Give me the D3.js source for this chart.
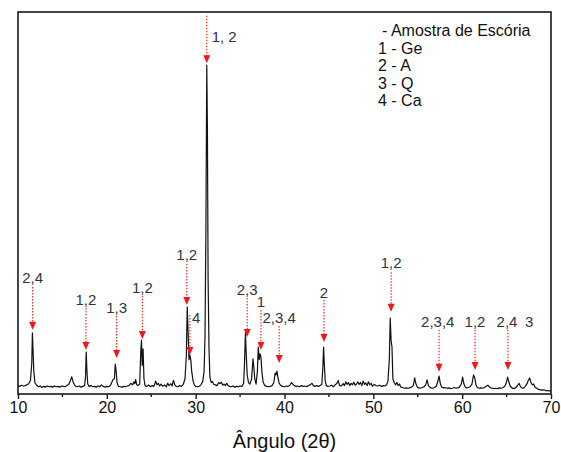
<!DOCTYPE html>
<html>
<head>
<meta charset="utf-8">
<script src="https://cdn.jsdelivr.net/npm/d3@7"></script>
<style>
  body { margin: 0; background: #fff; }
  svg { display: block; font-family: "Liberation Sans", Arial, sans-serif; }
</style>
</head>
<body>
<svg id="chart" width="561" height="452"></svg>
<script>
// diffractogram: [2theta, intensity]
const pattern = [
  [10.0,22],[10.2,20],[10.4,23],[10.6,21],[10.8,22],[11.0,24],[11.2,27],[11.4,35],[11.55,80],[11.62,160],
  [11.7,110],[11.78,60],[11.9,30],[12.1,23],[12.3,19],[12.5,21],[12.7,17],[12.9,20],[13.1,18],[13.3,21],
  [13.5,19],[13.7,20],[13.9,18],[14.1,21],[14.3,19],[14.5,20],[14.7,18],[14.9,21],[15.1,20],[15.3,19],
  [15.5,22],[15.7,25],[15.9,35],[16.05,45],[16.2,32],[16.35,24],[16.5,20],[16.7,19],[16.9,21],[17.1,18],
  [17.3,20],[17.5,22],[17.6,45],[17.68,110],[17.76,60],[17.85,26],[18.0,20],[18.2,22],[18.4,19],[18.6,20],
  [18.8,18],[19.0,21],[19.2,19],[19.4,24],[19.6,20],[19.8,18],[20.0,20],[20.2,19],[20.4,22],[20.55,30],
  [20.7,38],[20.85,40],[20.95,78],[21.05,60],[21.15,30],[21.3,20],[21.5,19],[21.7,18],[21.9,20],[22.1,19],
  [22.3,21],[22.5,22],[22.7,28],[22.9,24],[23.05,32],[23.15,27],[23.25,38],[23.35,25],[23.5,22],[23.7,26],
  [23.82,110],[23.9,141],[23.98,75],[24.08,118],[24.18,40],[24.3,22],[24.5,20],[24.7,24],[24.9,19],[25.1,22],
  [25.3,20],[25.5,34],[25.65,24],[25.8,28],[25.95,21],[26.1,26],[26.3,20],[26.5,24],[26.7,19],[26.85,28],
  [27.0,22],[27.2,27],[27.35,21],[27.5,36],[27.65,24],[27.8,20],[28.0,19],[28.2,22],[28.4,20],[28.6,25],
  [28.8,40],[28.95,100],[29.05,228],[29.15,160],[29.25,90],[29.35,102],[29.45,90],[29.55,60],[29.7,35],[29.85,24],
  [30.0,20],[30.2,19],[30.4,20],[30.6,24],[30.8,33],[30.95,60],[31.05,150],[31.15,420],[31.25,861],[31.32,700],
  [31.4,300],[31.5,120],[31.6,45],[31.75,30],[31.9,33],[32.0,26],[32.2,24],[32.4,22],[32.6,30],[32.75,27],
  [32.9,31],[33.05,23],[33.2,26],[33.35,22],[33.5,28],[33.65,22],[33.8,20],[34.0,19],[34.2,21],[34.4,18],
  [34.6,20],[34.8,19],[35.0,21],[35.2,20],[35.4,28],[35.5,80],[35.6,160],[35.7,100],[35.8,50],[35.95,30],
  [36.1,26],[36.3,40],[36.45,92],[36.55,70],[36.65,40],[36.8,26],[36.95,60],[37.05,123],[37.15,90],[37.25,105],
  [37.35,97],[37.45,60],[37.6,30],[37.8,22],[38.0,20],[38.2,19],[38.4,20],[38.6,22],[38.8,30],[38.95,55],
  [39.05,50],[39.15,60],[39.25,45],[39.4,28],[39.6,22],[39.8,20],[40.0,19],[40.2,21],[40.4,20],[40.6,23],
  [40.8,30],[40.95,25],[41.1,22],[41.3,20],[41.5,21],[41.7,19],[41.9,22],[42.1,20],[42.3,21],[42.5,19],
  [42.7,22],[42.9,24],[43.1,28],[43.25,22],[43.4,20],[43.6,22],[43.8,20],[44.0,22],[44.2,25],[44.32,70],
  [44.4,123],[44.48,80],[44.58,35],[44.7,22],[44.9,20],[45.1,21],[45.3,23],[45.5,19],[45.7,24],[45.9,28],
  [46.05,35],[46.2,22],[46.4,21],[46.6,27],[46.75,22],[46.9,32],[47.05,25],[47.2,30],[47.35,22],[47.5,28],
  [47.65,24],[47.8,31],[47.95,23],[48.1,26],[48.25,32],[48.4,25],[48.55,30],[48.7,22],[48.85,34],[49.0,25],
  [49.15,29],[49.3,22],[49.45,32],[49.6,24],[49.75,28],[49.9,20],[50.1,25],[50.3,22],[50.5,21],[50.7,23],
  [50.9,20],[51.1,22],[51.3,21],[51.5,24],[51.65,35],[51.8,90],[51.9,199],[52.0,140],[52.1,123],[52.2,40],
  [52.35,30],[52.5,24],[52.65,30],[52.8,22],[52.95,26],[53.1,18],[53.3,17],[53.5,15],[53.7,16],[53.9,15],
  [54.1,16],[54.3,18],[54.5,22],[54.65,42],[54.8,26],[54.95,18],[55.1,16],[55.3,15],[55.5,17],[55.7,19],
  [55.9,24],[56.05,37],[56.2,22],[56.35,18],[56.5,16],[56.7,15],[56.9,17],[57.1,21],[57.25,32],[57.4,47],
  [57.55,26],[57.7,18],[57.9,16],[58.1,17],[58.3,15],[58.5,16],[58.7,14],[58.9,15],[59.1,17],[59.3,15],
  [59.5,16],[59.7,18],[59.9,26],[60.05,44],[60.2,26],[60.35,18],[60.5,16],[60.7,17],[60.9,19],[61.1,26],
  [61.28,50],[61.42,42],[61.55,24],[61.7,17],[61.9,15],[62.1,16],[62.3,15],[62.5,17],[62.7,20],[62.9,23],
  [63.05,19],[63.2,16],[63.4,15],[63.6,14],[63.8,15],[64.0,14],[64.2,16],[64.4,15],[64.6,17],[64.8,20],
  [64.95,28],[65.12,44],[65.25,32],[65.4,21],[65.6,16],[65.8,14],[66.0,16],[66.2,21],[66.4,28],[66.55,20],
  [66.7,16],[66.9,15],[67.1,20],[67.3,27],[67.45,36],[67.6,42],[67.75,30],[67.9,24],[68.05,26],[68.2,18],
  [68.4,15],[68.6,12],[68.8,11],[69.0,10],[69.2,11],[69.4,9],[69.6,9],[69.8,8],[70.0,8]
];

// phase annotations
const annText  = ["2,4", "1,2", "1,3", "1,2", "1,2", "4", "1, 2", "2,3", "1", "2,3,4", "2", "1,2", "2,3,4", "1,2", "2,4", "3"];
const annAngle = [11.65, 17.65, 21.1, 24.0, 29.0, 29.35, 31.25, 35.8, 37.35, 39.4, 44.45, 52.0, 57.4, 61.45, 65.15, 67.55];
const annTextAngle = [11.65, 17.65, 21.1, 24.0, 29.0, 29.6, 31.8, 35.8, 37.35, 39.4, 44.45, 52.0, 57.25, 61.45, 65.05, 67.55];
const annTextI = [291, 233, 212, 264, 351, 186, 921, 259, 228, 186, 251, 330, 175, 175, 175, 175];
const annTop   = [280, 225, 204, 257, 340, 207, 990, 251, 220, 178, 246, 319, 168, 168, 168, null];
const annTip   = [168, 115, 94, 144, 233, 102, 866, 149, 115, 81, 136, 215, 58, 63, 63, null];

const legendLines = ["- Amostra de Escória", "1 - Ge", "2 - A", "3 - Q", "4 - Ca"];
const majorTicks = [10, 20, 30, 40, 50, 60, 70];
const minorTicks = [15, 25, 35, 45, 55, 65];

const svg = d3.select("#chart");
const plotLeft = 18, plotRight = 551, plotTop = 12, plotBottom = 394;
const RED = "#f01818";

const x = d3.scaleLinear().domain([10, 70]).range([plotLeft, plotRight]);
const y = d3.scaleLinear().domain([0, 1000]).range([plotBottom, plotTop]);

// spectrum
svg.append("path")
    .datum(pattern)
    .attr("d", d3.line().x(d => x(d[0])).y(d => y(d[1])))
    .attr("fill", "none")
    .attr("stroke", "#111")
    .attr("stroke-width", 1.2)
    .attr("stroke-linejoin", "round");

// frame
svg.append("rect")
    .attr("x", plotLeft).attr("y", plotTop)
    .attr("width", plotRight - plotLeft).attr("height", plotBottom - plotTop)
    .attr("fill", "none").attr("stroke", "#1a1a1a").attr("stroke-width", 1.6);

// bottom axis
const axis = svg.append("g").attr("transform", `translate(0,${plotBottom})`);
axis.call(d3.axisBottom(x).tickValues(majorTicks).tickSize(5).tickSizeOuter(0).tickPadding(3).tickFormat(d3.format("d")))
    .call(g => g.select(".domain").remove())
    .call(g => g.selectAll("line").attr("stroke", "#1a1a1a").attr("stroke-width", 1.4))
    .call(g => g.selectAll("text").attr("font-size", 16).attr("fill", "#111")
        .attr("font-family", "'Liberation Sans', Arial, sans-serif"));
axis.selectAll(".minor")
    .data(minorTicks)
    .enter()
    .append("line")
    .attr("x1", d => x(d)).attr("x2", d => x(d))
    .attr("y1", 0).attr("y2", 3)
    .attr("stroke", "#1a1a1a").attr("stroke-width", 1.4);

svg.append("text")
    .attr("x", (plotLeft + plotRight) / 2)
    .attr("y", 448)
    .attr("text-anchor", "middle")
    .attr("font-size", 20)
    .attr("fill", "#111")
    .text("Ângulo (2θ)");

// arrows and labels
const ann = annText.map((t, i) => ({
    text: t, angle: annAngle[i], textAngle: annTextAngle[i],
    textI: annTextI[i], start: annTop[i], tip: annTip[i]
}));

const arrows = ann.filter(d => d.start !== null);
svg.append("g").selectAll("line")
    .data(arrows)
    .enter()
    .append("line")
    .attr("x1", d => x(d.angle)).attr("x2", d => x(d.angle))
    .attr("y1", d => y(d.start)).attr("y2", d => y(d.tip) - 6)
    .attr("stroke", RED).attr("stroke-width", 1.1)
    .attr("stroke-dasharray", "1.5,1.5");

svg.append("g").selectAll("path")
    .data(arrows)
    .enter()
    .append("path")
    .attr("d", d => {
        const px = x(d.angle), py = y(d.tip);
        return `M${px - 3.5},${py - 8}L${px + 3.5},${py - 8}L${px},${py}Z`;
    })
    .attr("fill", RED);

svg.append("g").selectAll("text")
    .data(ann)
    .enter()
    .append("text")
    .attr("x", d => x(d.textAngle))
    .attr("y", d => y(d.textI))
    .attr("text-anchor", d => d.textAngle > d.angle + 0.1 ? "start" : "middle")
    .attr("font-size", 15)
    .attr("fill", "#33333f")
    .text(d => d.text);

// legend
svg.append("g").selectAll("text")
    .data(legendLines)
    .enter()
    .append("text")
    .attr("x", (d, i) => i === 0 ? 382 : 378)
    .attr("y", (d, i) => 36 + i * 17.5)
    .attr("font-size", 16)
    .attr("fill", "#111")
    .text(d => d);
</script>
</body>
</html>
